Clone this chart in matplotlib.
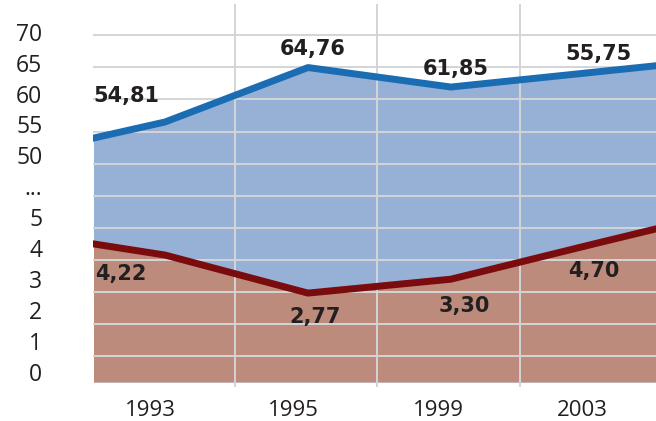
import numpy as np
import matplotlib
matplotlib.use("Agg")
import matplotlib.pyplot as plt

# category positions of the line vertices (1 unit = one category step)
x_pts = [-0.5, 0, 1, 2, 3, 3.5]
upper_vals = [52.8, 55.4, 64.2, 61.05, 63.45, 64.65]   # blue series
lower_vals = [4.14, 3.78, 2.55, 3.0, 4.14, 4.70]       # red series

years = ["1993", "1995", "1999", "2003"]
year_pos = [-0.1, 0.9, 1.91, 2.92]

ytick_labels = ["0", "1", "2", "3", "4", "5", "...", "50", "55", "60", "65", "70"]

upper_labels = ["54,81", "64,76", "61,85", "55,75"]
upper_lab_x = [-0.27, 1.03, 2.03, 3.035]
upper_lab_v = [58.7, 66.25, 63.0, 65.5]
lower_labels = ["4,22", "2,77", "3,30", "4,70"]
lower_lab_x = [-0.31, 1.05, 2.09, 3.0]
lower_lab_v = [2.97, 1.57, 1.95, 3.08]


def to_slot(v):
    # broken axis: 0..5 linear, then "...", then 50..70 in steps of 5
    v = np.asarray(v, dtype=float)
    return np.where(v <= 5, v, 7 + (v - 50) / 5)


blue_fill = "#97b0d6"
blue_line = "#1b6db3"
red_fill = "#bd8b7b"
red_line = "#7a0c0e"
grid_col = "#d4d4d6"
txt_col = "#231f20"

fig = plt.figure(figsize=(6.56, 4.21), dpi=100)
ax = fig.add_axes([93 / 656, 34 / 421, 563 / 656, 383 / 421])

base = -0.323
ax.fill_between(x_pts, to_slot(upper_vals), base, color=blue_fill, lw=0, zorder=1)
ax.fill_between(x_pts, to_slot(lower_vals), base, color=red_fill, lw=0, zorder=1.1)

# grid
for gy in np.linspace(0.517, 10.88, 11):
    ax.axhline(gy, color=grid_col, lw=1.4, zorder=2)
for gx in [0.49, 1.48, 2.48]:
    ax.axvline(gx, color=grid_col, lw=1.4, zorder=2)

ax.plot(x_pts, to_slot(upper_vals), color=blue_line, lw=5, solid_joinstyle="round", zorder=3)
ax.plot(x_pts, to_slot(lower_vals), color=red_line, lw=5, solid_joinstyle="round", zorder=3)

for lab, xx, vv in zip(upper_labels, upper_lab_x, upper_lab_v):
    ax.text(xx, to_slot(vv), lab, ha="center", va="baseline", fontsize=15,
            fontweight="bold", family="DejaVu Sans", color=txt_col, zorder=4)
for lab, xx, vv in zip(lower_labels, lower_lab_x, lower_lab_v):
    ax.text(xx, to_slot(vv), lab, ha="center", va="baseline", fontsize=15,
            fontweight="bold", family="DejaVu Sans", color=txt_col, zorder=4)

ax.set_xlim(-0.5035, 3.434)
ax.set_ylim(-0.485, 11.894)

ax.set_yticks(range(len(ytick_labels)))
ax.set_yticklabels(ytick_labels, family="Open Sans", fontsize=16.5, color=txt_col)
ax.set_xticks(year_pos)
ax.set_xticklabels(years, family="Open Sans", fontsize=16, color=txt_col)
ax.tick_params(axis="y", length=0, pad=36.5)
ax.tick_params(axis="x", length=0, pad=9)

for s in ax.spines.values():
    s.set_visible(False)

fig.savefig("out.png", dpi=100)
